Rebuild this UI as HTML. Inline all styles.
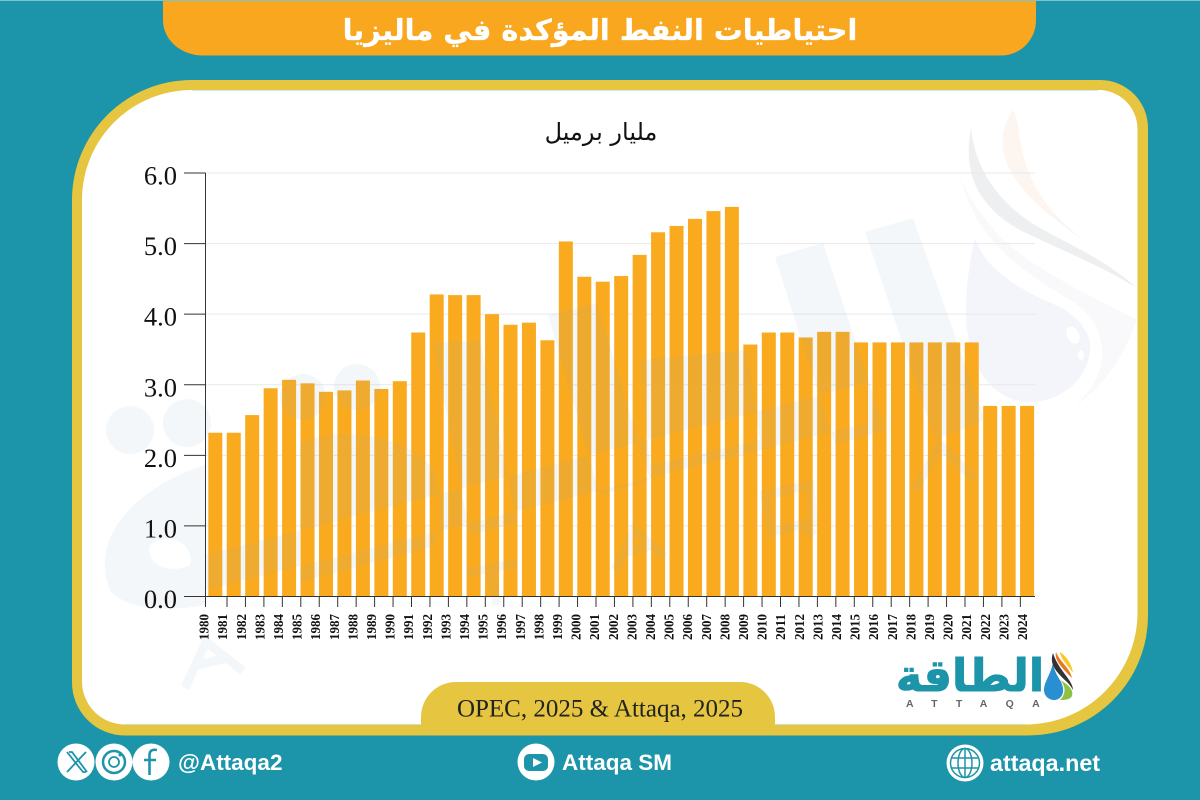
<!DOCTYPE html>
<html lang="ar">
<head>
<meta charset="utf-8">
<title>احتياطيات النفط المؤكدة في ماليزيا</title>
<style>
html,body{margin:0;padding:0;background:#1c94a9;width:1200px;height:800px;overflow:hidden}
svg{display:block}
.ui{font-family:"Liberation Sans","DejaVu Sans",sans-serif;font-weight:700;fill:#fff}
.ar{font-family:"DejaVu Sans",sans-serif}
.serif{font-family:"Liberation Serif","DejaVu Serif",serif}
</style>
</head>
<body>
<svg id="page" xmlns="http://www.w3.org/2000/svg" width="1200" height="800" viewBox="0 0 1200 800">
  <rect x="0" y="0" width="1200" height="800" fill="#1c94a9"/>
  <rect x="0" y="0" width="1200" height="1" fill="#7fc3cf"/>

  <path d="M163 1H1036V20A35 35 0 0 1 1001 55.500H203A40 35 0 0 1 163 20Z" fill="#f8a71f"/>
  <text x="600" y="40" text-anchor="middle" direction="rtl" class="ar" font-size="28.800" font-weight="700" fill="#fff" stroke="#fff" stroke-width=".3">احتياطيات النفط المؤكدة في ماليزيا</text>

  <path d="M192 80H1100A48 48 0 0 1 1148 128V615A120 120 0 0 1 1028 735.500H125A53 53 0 0 1 72 682V200A120 120 0 0 1 192 80Z" fill="#e6c640"/>
  <path d="M192 90H1098A39 39 0 0 1 1137.500 129V612A112 112 0 0 1 1025 724.500H125A43 43 0 0 1 82 682V200A110 110 0 0 1 192 90Z" fill="#ffffff"/>
  <rect x="192" y="90" width="906" height=".6" fill="#b4dbe2"/>
  <rect x="125" y="724.200" width="900" height=".6" fill="#b4dbe2"/>

  <g id="watermark-back">
    <path d="M960 175C975 240 1020 270 1070 300C1112 325 1112 375 1075 405C1110 385 1130 340 1137 320C1100 300 1020 265 990 225C975 207 965 190 960 175Z" fill="#f9f9fb"/>
    <path d="M1013 110C985 150 1010 200 1120 262C1050 225 1030 185 1022 150C1018 130 1018 118 1013 110Z" fill="#fdf5ef"/>
    <path d="M971 128C963 170 975 205 1020 230C1060 250 1100 265 1137 288C1105 260 1080 250 1040 228C1000 205 975 170 971 128Z" fill="#eeeff0"/>
    <path d="M975 238C985 270 1020 290 1060 307C1080 318 1092 335 1090 350C1088 380 1060 402 1030 402C995 402 966 370 966 310C966 285 970 260 975 238Z" fill="#f4f5fa"/>
    <ellipse cx="1073" cy="335" rx="6" ry="9" fill="#fff" transform="rotate(-25 1073 335)"/>
    <ellipse cx="1081" cy="355" rx="3" ry="5" fill="#fff"/>
  </g>

  <g id="gridlines"></g>
  <g id="bars"></g>

  <g id="watermark-front" opacity=".1">
    <path fill="#95b4c8" fill-rule="evenodd" d="M775 257L823 243L885 430L835 445Z M865 232L913 218L985 420L935 440Z M205 590L205 555L867 383L867 423Z M548 315L597 303L650 480L600 495Z M433 343L480 340L517 523L470 535Z M640 360L747 350L760 440L650 465Z M300 443C340 425 410 435 433 470C445 500 440 530 433 547L300 582Z M110 590C90 540 130 490 205 465V605C170 612 125 610 110 590Z M150 545C170 530 195 545 190 565C170 575 145 565 150 545Z"/>
    <circle cx="130" cy="430" r="24" fill="#95b4c8"/>
    <circle cx="187" cy="423" r="24" fill="#95b4c8"/>
    <circle cx="303" cy="397" r="23" fill="#95b4c8"/>
    <circle cx="357" cy="387" r="23" fill="#95b4c8"/>
    <g fill="none" stroke="#95b4c8" stroke-width="9">
      <path d="M185 688L206 642L243 671M195 666L226 658"/>
      <path d="M467 573L517 563M490 568L497 605"/>
      <path d="M615 570L634 530L665 557M623 553L650 546"/>
      <path d="M765 495L810 485L813 522L772 532ZM800 525L815 535"/>
      <path d="M915 490L940 445L975 480"/>
    </g>
  </g>

  <g id="axes"></g>

  <text x="601" y="140" text-anchor="middle" direction="rtl" class="ar" font-size="24" fill="#111">مليار برميل</text>

  <path d="M421 735V717A35 35 0 0 1 456 682H740A35 35 0 0 1 775 717V735Z" fill="#e6c640"/>
  <text x="600" y="716.500" text-anchor="middle" class="serif" font-size="25" fill="#222">OPEC, 2025 &amp; Attaqa, 2025</text>

  <g>
    <text x="970" y="691" text-anchor="middle" direction="rtl" class="ar" font-size="44.500" font-weight="700" fill="#1c94a9" stroke="#1c94a9" stroke-width="1">الطاقة</text>
    <text x="906" y="707" class="ui" font-size="10.500" letter-spacing="18.300" style="fill:#666;font-weight:700">ATTAQA</text>
    <path d="M1053 663C1050 676 1044 682 1044 690C1044 696 1049 700 1054 700C1060 700 1064 695 1063 688C1062 680 1055 676 1053 663Z" fill="#2a8fd0"/>
    <path d="M1053 653C1049 664 1056 672 1067 682C1070 685 1072 688 1073 690C1073 680 1058 670 1053 653Z" fill="#333"/>
    <path d="M1056 652C1054 660 1062 668 1072 678C1070 668 1060 662 1056 652Z" fill="#e8791e"/>
    <path d="M1060 652C1061 660 1068 665 1073 673C1072 664 1066 656 1060 652Z" fill="#f7c821"/>
    <path d="M1060 680C1068 684 1074 690 1072 696C1070 700 1064 700 1060 700C1066 694 1066 686 1060 680Z" fill="#8fc244"/>
  </g>

  <g>
    <circle cx="76" cy="762" r="18.500" fill="#fff"/>
    <path d="M67 752L83 772H86M69 752H72L87 772M86 752L67 772" fill="none" stroke="#1c94a9" stroke-width="1.800"/>
  </g>
  <g>
    <circle cx="114" cy="762" r="18.500" fill="#fff"/>
    <circle cx="114" cy="762" r="11" fill="none" stroke="#1c94a9" stroke-width="2.500"/>
    <circle cx="114" cy="762" r="5" fill="none" stroke="#1c94a9" stroke-width="1.800"/>
    <circle cx="120" cy="755" r="1.500" fill="#1c94a9"/>
  </g>
  <g>
    <circle cx="151" cy="762" r="18.500" fill="#fff"/>
    <path d="M157 750C152 749 149.500 751 149.500 755V775M144 760H156" fill="none" stroke="#1c94a9" stroke-width="2.600"/>
  </g>
  <text x="178" y="770" class="ui" font-size="22.500">@Attaqa2</text>

  <g>
    <circle cx="536" cy="762" r="18.500" fill="#fff"/>
    <rect x="524" y="754" width="24" height="17" rx="5" fill="#1c94a9"/>
    <path d="M533 758L542 762.500L533 767Z" fill="#fff"/>
  </g>
  <text x="562" y="770" class="ui" font-size="22.500">Attaqa SM</text>

  <g>
    <circle cx="965" cy="763" r="18.500" fill="#fff"/>
    <g fill="none" stroke="#1c94a9" stroke-width="1.500">
      <circle cx="965" cy="763" r="14.500"/>
      <ellipse cx="965" cy="763" rx="7" ry="14.500"/>
      <path d="M965 748V778M951 758H979M951 768H979"/>
    </g>
  </g>
  <text x="990" y="771" class="ui" font-size="23.300">attaqa.net</text>
</svg>

<script>
const categories = [1980,1981,1982,1983,1984,1985,1986,1987,1988,1989,1990,1991,1992,1993,1994,1995,1996,1997,1998,1999,2000,2001,2002,2003,2004,2005,2006,2007,2008,2009,2010,2011,2012,2013,2014,2015,2016,2017,2018,2019,2020,2021,2022,2023,2024];
const reserves = [2.32,2.32,2.57,2.95,3.07,3.02,2.90,2.92,3.06,2.94,3.05,3.74,4.28,4.27,4.27,4.00,3.85,3.88,3.63,5.03,4.53,4.46,4.54,4.84,5.16,5.25,5.35,5.46,5.52,3.57,3.74,3.74,3.67,3.75,3.75,3.60,3.60,3.60,3.60,3.60,3.60,3.60,2.70,2.70,2.70];
const yTickValues = [0,1,2,3,4,5,6];
const yTickLabels = ["0.0","1.0","2.0","3.0","4.0","5.0","6.0"];

const NS = "http://www.w3.org/2000/svg";
const plot = {left:205.5, right:1035, top:173, bottom:596.5, yMax:6, firstBar:208.3, pitch:18.45, barWidth:14, labelStart:208.6, labelPitch:18.6};
function yScale(v){ return plot.bottom - (v / plot.yMax) * (plot.bottom - plot.top); }
function xScale(i){ return plot.firstBar + i * plot.pitch; }
function tickX(i){ return i === 0 ? plot.left : xScale(i) + 0.25; }
function labelX(i){ return plot.labelStart + i * plot.labelPitch; }
function make(tag, attrs){
  const el = document.createElementNS(NS, tag);
  for (const k in attrs) el.setAttribute(k, attrs[k]);
  return el;
}
const gridG = document.getElementById("gridlines");
const barsG = document.getElementById("bars");
const axesG = document.getElementById("axes");

yTickValues.forEach(function(v, i){
  const y = yScale(v);
  if (v > 0) {
    const g = make("line", {x1:plot.left, x2:plot.right, y1:y, y2:y, stroke:"#e9e9e9", "stroke-width":1});
    
    
    gridG.appendChild(g);
  }
  const t = make("line", {x1:184, x2:plot.left, y1:y, y2:y, stroke:"#333", "stroke-width":1});
  
  
  axesG.appendChild(t);
  const l = make("text", {x:177, y:y + 11.5, "text-anchor":"end", "font-size":26.5, fill:"#111", "class":"serif"});
  l.textContent = yTickLabels[i];
  
  
  axesG.appendChild(l);
});

reserves.forEach(function(v, i){
  const y = yScale(v);
  const r = make("rect", {x:xScale(i), y:y, width:plot.barWidth, height:plot.bottom - y, fill:"#f9aa1f"});
  
  
  barsG.appendChild(r);
});

const yAxis = make("line", {x1:plot.left, x2:plot.left, y1:plot.top, y2:plot.bottom, stroke:"#333", "stroke-width":1});


axesG.appendChild(yAxis);
const xAxis = make("line", {x1:plot.left, x2:plot.right, y1:plot.bottom, y2:plot.bottom, stroke:"#333", "stroke-width":1});


axesG.appendChild(xAxis);

categories.forEach(function(c, i){
  const tx = tickX(i);
  const t = make("line", {x1:tx, x2:tx, y1:plot.bottom, y2:607, stroke:"#333", "stroke-width":1});
  
  
  axesG.appendChild(t);
  const l = make("text", {x:0, y:0, transform:"translate(" + labelX(i) + ",640) rotate(-90)", "font-size":13.5, "font-weight":700, fill:"#111", "class":"serif", textLength:26, lengthAdjust:"spacingAndGlyphs"});
  l.textContent = String(c);
  
  
  axesG.appendChild(l);
});
</script>
</body>
</html>
